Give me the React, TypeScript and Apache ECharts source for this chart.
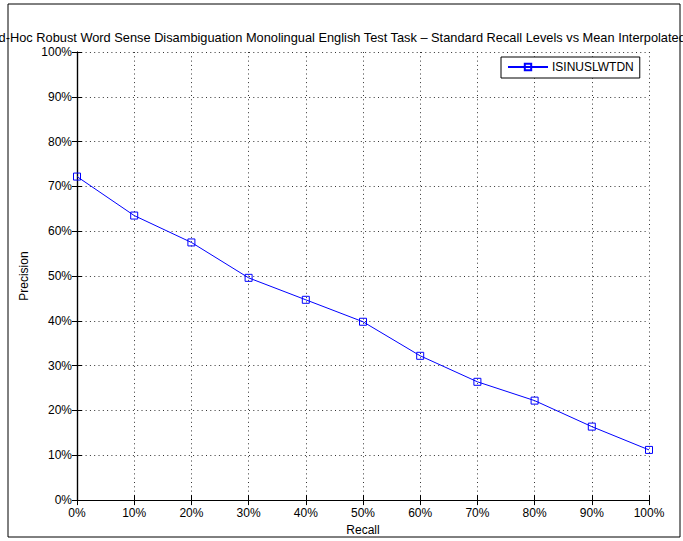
import React, { useEffect, useRef } from "react";
import * as echarts from "echarts";

const TITLE =
  "Ad-Hoc Robust Word Sense Disambiguation Monolingual English Test Task \u2013 Standard Recall Levels vs Mean Interpolated Precision";
const SERIES_NAME = "ISINUSLWTDN";
const recallLevels = [0, 10, 20, 30, 40, 50, 60, 70, 80, 90, 100];
const precisionValues = [72.2, 63.5, 57.5, 49.6, 44.7, 39.8, 32.2, 26.4, 22.2, 16.4, 11.2];

const FONT = "Liberation Sans, Arial, Helvetica, sans-serif";

export default function App() {
  const ref = useRef<HTMLDivElement>(null);
  useEffect(() => {
    if (!ref.current) return;
    const chart = echarts.init(ref.current, undefined, { renderer: "svg" });
    const pct = (v: number) => `${v}%`;
    const splitLine = {
      show: true,
      lineStyle: { color: "#333", width: 1, type: [1, 3.3] as any },
    };
    const axisLine = { show: true, lineStyle: { color: "#000", width: 1.2 } };
    const axisTick = { show: true, inside: true, length: 5, lineStyle: { color: "#000" } };
    chart.setOption({
      animation: false,
      backgroundColor: "#fff",
      textStyle: { fontFamily: FONT },
      grid: { left: 77, right: 34, top: 52, bottom: 39, containLabel: false },
      graphic: [
        {
          type: "rect",
          shape: { x: 8, y: 4, width: 672, height: 533 },
          style: { fill: "none", stroke: "#000", lineWidth: 1 },
          silent: true,
        },
        {
          type: "text",
          x: 366,
          y: 37,
          style: {
            text: TITLE,
            fontFamily: FONT,
            fontSize: 12.8,
            fill: "#000",
            textAlign: "center",
            textVerticalAlign: "middle",
          },
          silent: true,
        },
      ],
      legend: {
        show: true,
        left: 501,
        top: 57,
        orient: "horizontal",
        borderColor: "#000",
        borderWidth: 1,
        padding: [4, 6, 5, 6],
        itemWidth: 40,
        itemHeight: 8,
        itemGap: 4,
        backgroundColor: "#fff",
        textStyle: { fontFamily: FONT, fontSize: 12, color: "#000", padding: [0, 0, 0, -1] },
        data: [SERIES_NAME],
      },
      xAxis: [
        {
          type: "value",
          min: 0,
          max: 100,
          interval: 10,
          name: "Recall",
          nameLocation: "middle",
          nameGap: 20,
          nameTextStyle: { fontFamily: FONT, fontSize: 12, color: "#000" },
          axisLine,
          axisTick,
          axisLabel: { formatter: pct, margin: 7, fontFamily: FONT, fontSize: 12, color: "#000" },
          splitLine,
        },
        {
          type: "value",
          position: "top",
          min: 0,
          max: 100,
          interval: 10,
          axisLine,
          axisTick,
          axisLabel: { show: false },
          splitLine: { show: false },
        },
      ],
      yAxis: [
        {
          type: "value",
          min: 0,
          max: 100,
          interval: 10,
          name: "Precision",
          nameLocation: "middle",
          nameGap: 41,
          nameTextStyle: { fontFamily: FONT, fontSize: 12, color: "#000" },
          axisLine,
          axisTick,
          axisLabel: { formatter: pct, margin: 5, fontFamily: FONT, fontSize: 12, color: "#000" },
          splitLine,
        },
        {
          type: "value",
          position: "right",
          min: 0,
          max: 100,
          interval: 10,
          axisLine,
          axisTick,
          axisLabel: { show: false },
          splitLine: { show: false },
        },
      ],
      series: [
        {
          name: SERIES_NAME,
          type: "line",
          data: recallLevels.map((r, i) => [r, precisionValues[i]]),
          symbol: "rect",
          symbolSize: 7,
          showAllSymbol: true,
          lineStyle: { color: "#0000ff", width: 1 },
          itemStyle: { color: "rgba(0,0,0,0)", borderColor: "#0000ff", borderWidth: 1 },
          emphasis: { disabled: true },
          z: 5,
        },
      ],
    });
    return () => chart.dispose();
  }, []);
  return <div ref={ref} style={{ width: 683, height: 541, position: "absolute", left: 0, top: 0 }} />;
}
